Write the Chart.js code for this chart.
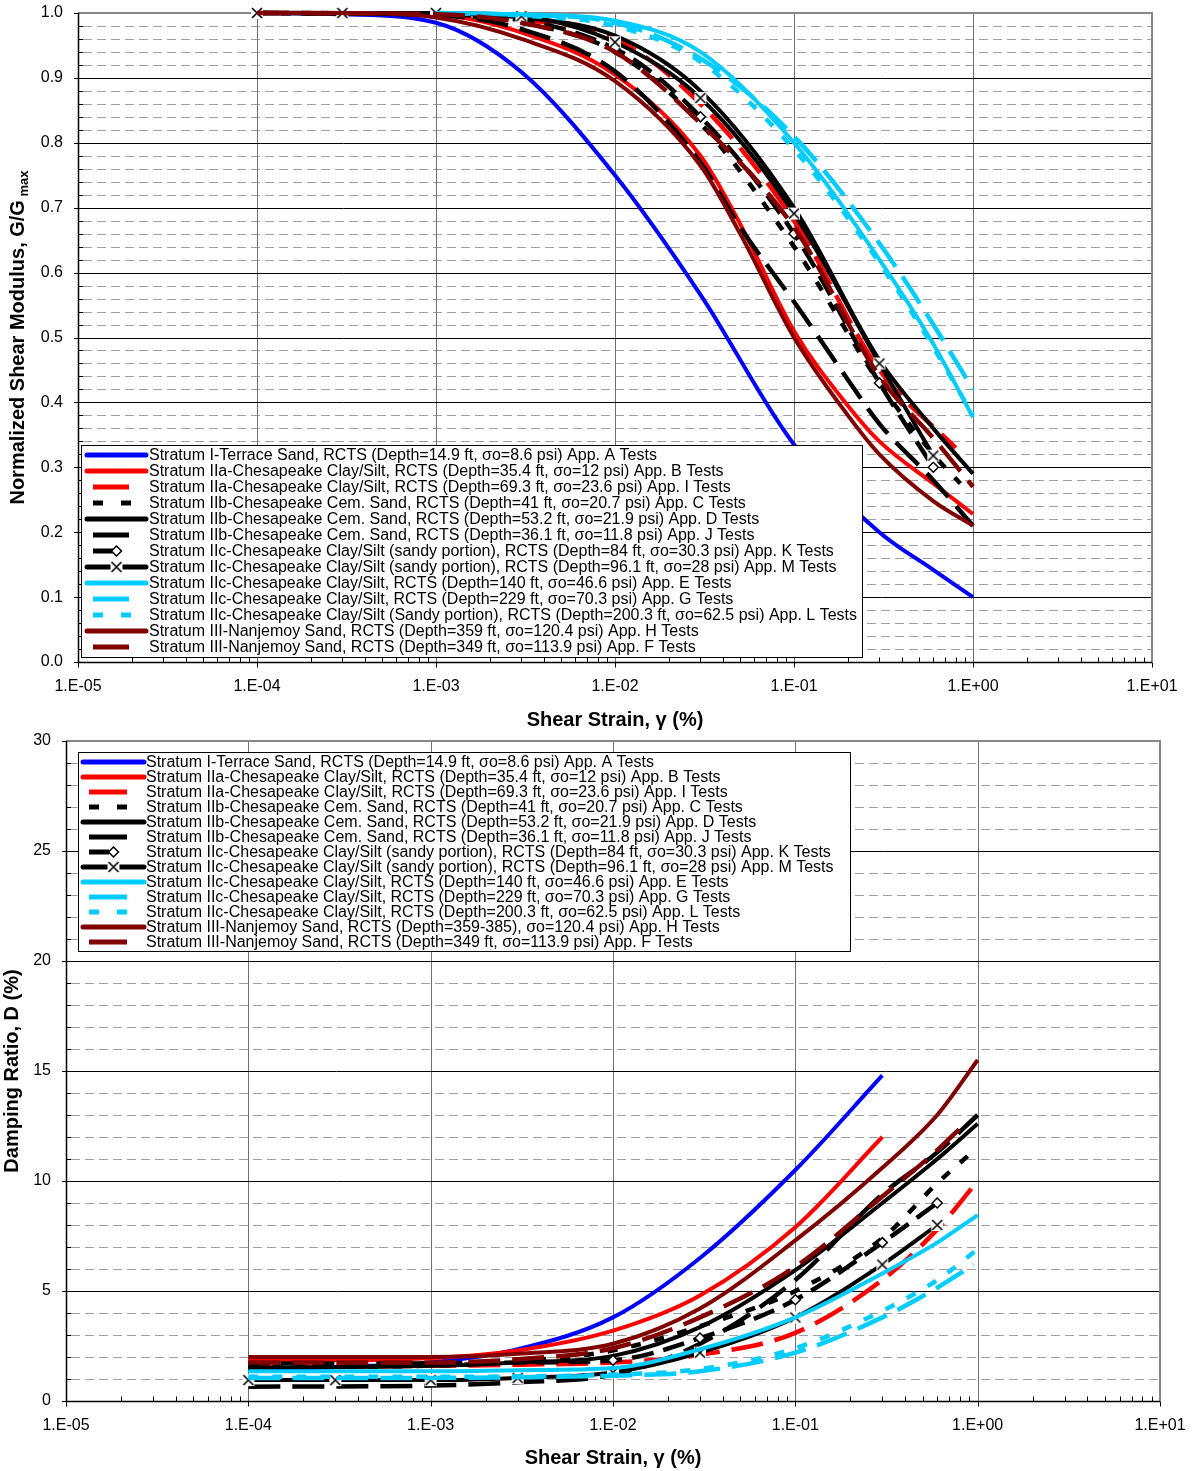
<!DOCTYPE html>
<html>
<head>
<meta charset="utf-8">
<script src="https://cdn.jsdelivr.net/npm/chart.js@4.4.0/dist/chart.umd.min.js"></script>
<style>
  body { margin: 0; background: #fff; }
  #wrap { position: relative; width: 1194px; height: 1471px; }
  canvas { position: absolute; left: 0; }
  #modChart { top: 0; }
  #dampChart { top: 725px; }
</style>
</head>
<body>
<div id="wrap">
  <canvas id="modChart" width="1194" height="740"></canvas>
  <canvas id="dampChart" width="1194" height="746"></canvas>
</div>
<script>
// ---- axes ----
const strainTicks = [1e-5, 1e-4, 1e-3, 1e-2, 1e-1, 1, 10];
const strainLabels = ['1.E-05', '1.E-04', '1.E-03', '1.E-02', '1.E-01', '1.E+00', '1.E+01'];
const modTicks = [0, 0.1, 0.2, 0.3, 0.4, 0.5, 0.6, 0.7, 0.8, 0.9, 1.0];
const dampTicks = [0, 5, 10, 15, 20, 25, 30];

// legend order of the series
const seriesOrder = ['A', 'B', 'I', 'C', 'D', 'J', 'K', 'M', 'E', 'G', 'L', 'H', 'F'];

const modNames = [
  'Stratum I-Terrace Sand, RCTS (Depth=14.9 ft, σo=8.6 psi) App. A Tests',
  'Stratum IIa-Chesapeake Clay/Silt, RCTS (Depth=35.4 ft, σo=12 psi) App. B Tests',
  'Stratum IIa-Chesapeake Clay/Silt, RCTS (Depth=69.3 ft, σo=23.6 psi) App. I Tests',
  'Stratum IIb-Chesapeake Cem. Sand, RCTS (Depth=41 ft, σo=20.7 psi) App. C Tests',
  'Stratum IIb-Chesapeake Cem. Sand, RCTS (Depth=53.2 ft, σo=21.9 psi) App. D Tests',
  'Stratum IIb-Chesapeake Cem. Sand, RCTS (Depth=36.1 ft, σo=11.8 psi) App. J Tests',
  'Stratum IIc-Chesapeake Clay/Silt (sandy portion), RCTS (Depth=84 ft, σo=30.3 psi) App. K Tests',
  'Stratum IIc-Chesapeake Clay/Silt (sandy portion), RCTS (Depth=96.1 ft, σo=28 psi) App. M Tests',
  'Stratum IIc-Chesapeake Clay/Silt, RCTS (Depth=140 ft, σo=46.6 psi) App. E Tests',
  'Stratum IIc-Chesapeake Clay/Silt, RCTS (Depth=229 ft, σo=70.3 psi) App. G Tests',
  'Stratum IIc-Chesapeake Clay/Silt (Sandy portion), RCTS (Depth=200.3 ft, σo=62.5 psi) App. L Tests',
  'Stratum III-Nanjemoy Sand, RCTS (Depth=359 ft, σo=120.4 psi) App. H Tests',
  'Stratum III-Nanjemoy Sand, RCTS (Depth=349 ft, σo=113.9 psi) App. F Tests'
];
const dampNames = [
  'Stratum I-Terrace Sand, RCTS (Depth=14.9 ft, σo=8.6 psi) App. A Tests',
  'Stratum IIa-Chesapeake Clay/Silt, RCTS (Depth=35.4 ft, σo=12 psi) App. B Tests',
  'Stratum IIa-Chesapeake Clay/Silt, RCTS (Depth=69.3 ft, σo=23.6 psi) App. I Tests',
  'Stratum IIb-Chesapeake Cem. Sand, RCTS (Depth=41 ft, σo=20.7 psi) App. C Tests',
  'Stratum IIb-Chesapeake Cem. Sand, RCTS (Depth=53.2 ft, σo=21.9 psi) App. D Tests',
  'Stratum IIb-Chesapeake Cem. Sand, RCTS (Depth=36.1 ft, σo=11.8 psi) App. J Tests',
  'Stratum IIc-Chesapeake Clay/Silt (sandy portion), RCTS (Depth=84 ft, σo=30.3 psi) App. K Tests',
  'Stratum IIc-Chesapeake Clay/Silt (sandy portion), RCTS (Depth=96.1 ft, σo=28 psi) App. M Tests',
  'Stratum IIc-Chesapeake Clay/Silt, RCTS (Depth=140 ft, σo=46.6 psi) App. E Tests',
  'Stratum IIc-Chesapeake Clay/Silt, RCTS (Depth=229 ft, σo=70.3 psi) App. G Tests',
  'Stratum IIc-Chesapeake Clay/Silt, RCTS (Depth=200.3 ft, σo=62.5 psi) App. L Tests',
  'Stratum III-Nanjemoy Sand, RCTS (Depth=359-385), σo=120.4 psi) App. H Tests',
  'Stratum III-Nanjemoy Sand, RCTS (Depth=349 ft, σo=113.9 psi) App. F Tests'
];

// ---- G/Gmax curves (strain %, ratio) ----
const gA_x = [1e-4, 3e-4, 1e-3, 3e-3, 1e-2, 3e-2, 1e-1, 3e-1, 6e-1, 1];
const gA_y = [1.0, 0.998, 0.985, 0.909, 0.75, 0.566, 0.335, 0.2, 0.142, 0.10];
const gB_x = [1e-4, 1e-3, 3e-3, 1e-2, 3e-2, 5e-2, 1e-1, 2e-1, 3e-1, 6e-1, 1];
const gB_y = [1.0, 0.997, 0.97, 0.905, 0.78, 0.675, 0.51, 0.395, 0.34, 0.275, 0.228];
const gI_x = [1e-4, 1e-3, 3e-3, 1e-2, 3e-2, 1e-1, 3e-1, 8e-1];
const gI_y = [1.0, 0.998, 0.99, 0.96, 0.86, 0.68, 0.45, 0.33];
const gC_x = [1e-4, 1e-3, 3e-3, 1e-2, 3e-2, 1e-1, 3e-1, 6e-1, 0.85];
const gC_y = [1.0, 0.997, 0.985, 0.94, 0.83, 0.64, 0.43, 0.32, 0.275];
const gD_x = [1e-4, 1e-3, 3e-3, 1e-2, 3e-2, 1e-1, 3e-1, 6e-1, 1];
const gD_y = [1.0, 0.999, 0.993, 0.965, 0.88, 0.70, 0.465, 0.36, 0.29];
const gJ_x = [1e-4, 1e-3, 3e-3, 1e-2, 3e-2, 5e-2, 1e-1, 2e-1, 3e-1, 6e-1, 1];
const gJ_y = [1.0, 0.997, 0.975, 0.91, 0.77, 0.67, 0.555, 0.435, 0.367, 0.28, 0.21];
const gK_x = [1e-4, 1e-3, 1e-2, 3e-2, 1e-1, 3e-1, 6e-1];
const gK_y = [1.0, 0.998, 0.945, 0.84, 0.66, 0.43, 0.30];
const gM_x = [1e-4, 3e-4, 1e-3, 3e-3, 1e-2, 3e-2, 1e-1, 3e-1, 6e-1];
const gM_y = [1.0, 1.0, 1.0, 0.995, 0.955, 0.869, 0.691, 0.46, 0.318];
const gE_x = [1e-3, 3e-3, 1e-2, 3e-2, 1e-1, 3e-1, 6e-1, 1];
const gE_y = [1.0, 0.998, 0.988, 0.94, 0.80, 0.62, 0.49, 0.377];
const gG_x = [1e-3, 3e-3, 1e-2, 3e-2, 1e-1, 3e-1, 6e-1, 1];
const gG_y = [1.0, 0.997, 0.985, 0.93, 0.81, 0.645, 0.52, 0.42];
const gL_x = [1e-3, 3e-3, 1e-2, 3e-2, 1e-1, 3e-1, 6e-1, 1];
const gL_y = [1.0, 0.996, 0.98, 0.925, 0.79, 0.615, 0.485, 0.38];
const gH_x = [1e-4, 3e-4, 1e-3, 3e-3, 1e-2, 3e-2, 5e-2, 1e-1, 2e-1, 3e-1, 6e-1, 1];
const gH_y = [1.0, 1.0, 0.993, 0.96, 0.895, 0.765, 0.66, 0.50, 0.38, 0.32, 0.248, 0.21];
const gF_x = [1e-4, 1e-3, 3e-3, 1e-2, 3e-2, 1e-1, 3e-1, 6e-1, 1];
const gF_y = [1.0, 0.998, 0.985, 0.94, 0.83, 0.67, 0.44, 0.345, 0.27];

// ---- damping curves (strain %, D %) ----
const dA_x = [1e-4, 3e-4, 1e-3, 3e-3, 1e-2, 3e-2, 1e-1, 3e-1];
const dA_y = [1.45, 1.55, 1.75, 2.35, 3.8, 6.5, 10.5, 14.8];
const dB_x = [1e-4, 3e-4, 1e-3, 3e-3, 1e-2, 3e-2, 1e-1, 3e-1];
const dB_y = [1.85, 1.85, 1.95, 2.3, 3.2, 4.8, 7.9, 12.0];
const dI_x = [1e-4, 1e-3, 3e-3, 1e-2, 3e-2, 1e-1, 3e-1, 6e-1, 1];
const dI_y = [1.55, 1.6, 1.65, 1.75, 2.1, 3.1, 5.5, 7.8, 10.0];
const dC_x = [1e-4, 1e-3, 3e-3, 1e-2, 3e-2, 1e-1, 3e-1, 6e-1, 0.9];
const dC_y = [1.55, 1.6, 1.8, 2.3, 3.4, 5.0, 7.4, 9.9, 11.2];
const dD_x = [1e-4, 1e-3, 3e-3, 1e-2, 3e-2, 1e-1, 3e-1, 6e-1, 1];
const dD_y = [1.5, 1.6, 1.75, 2.05, 3.36, 5.95, 9.0, 11.0, 12.6];
const dJ_x = [1e-4, 1e-3, 3e-3, 1e-2, 3e-2, 1e-1, 3e-1, 6e-1, 1];
const dJ_y = [0.65, 0.7, 0.85, 1.2, 2.6, 5.5, 9.4, 11.3, 13.0];
const dK_x = [1e-4, 1e-3, 3e-3, 1e-2, 3e-2, 1e-1, 3e-1, 6e-1];
const dK_y = [1.7, 1.7, 1.75, 1.85, 2.86, 4.6, 7.2, 9.0];
const dM_x = [1e-4, 3e-4, 1e-3, 3e-3, 1e-2, 3e-2, 1e-1, 3e-1, 6e-1];
const dM_y = [0.95, 0.95, 0.95, 1.05, 1.3, 2.2, 3.8, 6.2, 8.0];
const dE_x = [1e-4, 1e-3, 3e-3, 1e-2, 3e-2, 1e-1, 3e-1, 6e-1, 1];
const dE_y = [1.35, 1.35, 1.4, 1.5, 2.35, 3.8, 5.8, 7.2, 8.45];
const dG_x = [1e-4, 1e-3, 3e-3, 1e-2, 3e-2, 1e-1, 3e-1, 6e-1, 0.95];
const dG_y = [1.05, 1.05, 1.08, 1.15, 1.35, 2.2, 3.8, 5.15, 6.2];
const dL_x = [1e-4, 1e-3, 3e-3, 1e-2, 3e-2, 1e-1, 3e-1, 6e-1, 1];
const dL_y = [1.1, 1.1, 1.12, 1.2, 1.45, 2.4, 4.1, 5.5, 6.9];
const dH_x = [1e-4, 3e-4, 1e-3, 3e-3, 1e-2, 3e-2, 1e-1, 3e-1, 6e-1, 1];
const dH_y = [2.0, 2.0, 2.0, 2.15, 2.6, 4.2, 7.3, 10.6, 13.0, 15.5];
const dF_x = [1e-4, 1e-3, 3e-3, 1e-2, 3e-2, 1e-1, 3e-1, 6e-1, 0.85];
const dF_y = [1.75, 1.75, 1.9, 2.4, 3.8, 6.1, 9.3, 11.4, 12.6];

const modX = { A: gA_x, B: gB_x, I: gI_x, C: gC_x, D: gD_x, J: gJ_x, K: gK_x, M: gM_x, E: gE_x, G: gG_x, L: gL_x, H: gH_x, F: gF_x };
const modY = { A: gA_y, B: gB_y, I: gI_y, C: gC_y, D: gD_y, J: gJ_y, K: gK_y, M: gM_y, E: gE_y, G: gG_y, L: gL_y, H: gH_y, F: gF_y };
const dampX = { A: dA_x, B: dB_x, I: dI_x, C: dC_x, D: dD_x, J: dJ_x, K: dK_x, M: dM_x, E: dE_x, G: dG_x, L: dL_x, H: dH_x, F: dF_x };
const dampY = { A: dA_y, B: dB_y, I: dI_y, C: dC_y, D: dD_y, J: dJ_y, K: dK_y, M: dM_y, E: dE_y, G: dG_y, L: dL_y, H: dH_y, F: dF_y };

// ---- styles ----
const FONT = "'Liberation Sans', Arial, sans-serif";
const BLUE = '#0000ff', RED = '#ff0000', BLACK = '#000000', CYAN = '#00ccff', MAROON = '#800000';
const seriesStyle = {
  A: { color: BLUE, kind: 'solid' },
  B: { color: RED, kind: 'solid' },
  I: { color: RED, kind: 'long' },
  C: { color: BLACK, kind: 'short' },
  D: { color: BLACK, kind: 'solid' },
  J: { color: BLACK, kind: 'long' },
  K: { color: BLACK, kind: 'diamond' },
  M: { color: BLACK, kind: 'cross' },
  E: { color: CYAN, kind: 'solid' },
  G: { color: CYAN, kind: 'long' },
  L: { color: CYAN, kind: 'short' },
  H: { color: MAROON, kind: 'solid' },
  F: { color: MAROON, kind: 'long' }
};
const dashes = { solid: [], cross: [], long: [32, 12], short: [10, 14], diamond: [22, 10] };

// X marker on a white square
function makeCross() {
  const c = document.createElement('canvas');
  c.width = 14; c.height = 14;
  const g = c.getContext('2d');
  g.fillStyle = '#fff';
  g.fillRect(1, 1, 12, 12);
  g.strokeStyle = '#000';
  g.lineWidth = 1.6;
  g.beginPath();
  g.moveTo(2, 2); g.lineTo(12, 12);
  g.moveTo(12, 2); g.lineTo(2, 12);
  g.stroke();
  return c;
}
const crossImg = makeCross();

function buildSets(xs, ys) {
  return seriesOrder.map((k, i) => {
    const st = seriesStyle[k];
    const ds = {
      label: k,
      data: xs[k].map((x, j) => ({ x: x, y: ys[k][j] })),
      borderColor: st.color,
      backgroundColor: st.color,
      borderWidth: st.kind === 'solid' || st.kind === 'cross' ? 4 : 4.5,
      borderDash: dashes[st.kind],
      cubicInterpolationMode: 'monotone',
      pointRadius: 0,
      clip: false,
      order: -i
    };
    if (k === 'K') {
      ds.pointStyle = 'rectRot';
      ds.pointRadius = c => (c.raw && c.raw.x >= 0.0099 ? 5 : 0);
      ds.pointBackgroundColor = '#fff';
      ds.pointBorderColor = '#000';
      ds.pointBorderWidth = 1.5;
    }
    if (k === 'M') {
      ds.pointStyle = crossImg;
      ds.pointRadius = 6;
    }
    return ds;
  });
}

function drawSample(ctx, st, l, r, yy) {
  const seg = (a, b) => { ctx.beginPath(); ctx.moveTo(a, yy); ctx.lineTo(b, yy); ctx.stroke(); };
  ctx.strokeStyle = st.color;
  ctx.lineWidth = 5;
  ctx.setLineDash([]);
  ctx.lineCap = 'butt';
  const mid = (l + r) / 2;
  if (st.kind === 'solid' || st.kind === 'cross') {
    ctx.lineCap = 'round';
    seg(l + 2, r - 2);
    ctx.lineCap = 'butt';
    if (st.kind === 'cross') ctx.drawImage(crossImg, mid - 7, yy - 7);
  } else if (st.kind === 'long') {
    seg(l + 8, r - 19);
  } else if (st.kind === 'short') {
    seg(l + 8, l + 18);
    seg(l + 36, l + 46);
  } else if (st.kind === 'diamond') {
    seg(l + 8, l + 28);
    ctx.fillStyle = '#fff';
    ctx.strokeStyle = '#000';
    ctx.lineWidth = 1.5;
    ctx.beginPath();
    ctx.moveTo(mid, yy - 5); ctx.lineTo(mid + 5, yy); ctx.lineTo(mid, yy + 5); ctx.lineTo(mid - 5, yy);
    ctx.closePath();
    ctx.fill();
    ctx.stroke();
  }
}

// grid, frame, legend and titles
const paperPlugin = {
  id: 'paper',
  beforeDatasetsDraw(chart, args, o) {
    const ctx = chart.ctx, a = chart.chartArea, x = chart.scales.x, y = chart.scales.y;
    const px = v => Math.round(x.getPixelForValue(v)) + 0.5;
    const py = v => Math.round(y.getPixelForValue(v)) + 0.5;
    const yMax = o.yTicks[o.yTicks.length - 1];
    ctx.save();
    ctx.lineWidth = 1;
    // minor dashed lines
    ctx.strokeStyle = '#a0a0a0';
    ctx.setLineDash([9, 5]);
    ctx.beginPath();
    for (let k = 1; k < o.minorCount; k++) {
      if (k % o.minorPerMajor === 0) continue;
      const yy = py(yMax * k / o.minorCount);
      ctx.moveTo(a.left + 5, yy);
      ctx.lineTo(a.right, yy);
    }
    ctx.stroke();
    ctx.setLineDash([]);
    // decade lines
    ctx.strokeStyle = '#707070';
    ctx.beginPath();
    for (let i = 1; i < strainTicks.length - 1; i++) {
      const xx = px(strainTicks[i]);
      ctx.moveTo(xx, a.top);
      ctx.lineTo(xx, a.bottom);
    }
    ctx.stroke();
    // major horizontal lines
    ctx.strokeStyle = '#000';
    ctx.beginPath();
    o.yTicks.slice(1, -1).forEach(v => {
      const yy = py(v);
      ctx.moveTo(a.left - 4, yy);
      ctx.lineTo(a.right, yy);
    });
    // major y ticks at ends
    ctx.moveTo(a.left - 4, py(0)); ctx.lineTo(a.left, py(0));
    ctx.moveTo(a.left - 4, py(yMax)); ctx.lineTo(a.left, py(yMax));
    // minor y ticks (inside)
    for (let k = 1; k < o.minorCount; k++) {
      if (k % o.minorPerMajor === 0) continue;
      const yy = py(yMax * k / o.minorCount);
      ctx.moveTo(a.left, yy);
      ctx.lineTo(a.left + 5, yy);
    }
    // x ticks
    const bottom = Math.round(a.bottom) + 0.5;
    strainTicks.forEach(v => { const xx = px(v); ctx.moveTo(xx, bottom); ctx.lineTo(xx, bottom + 5); });
    for (let d = -5; d < 1; d++) {
      for (let m = 2; m <= 9; m++) {
        const xx = px(m * Math.pow(10, d));
        ctx.moveTo(xx, bottom);
        ctx.lineTo(xx, bottom - 5);
      }
    }
    ctx.stroke();
    // frame
    ctx.strokeStyle = '#888';
    ctx.lineWidth = 2;
    ctx.beginPath();
    ctx.moveTo(a.left, Math.round(a.top));
    ctx.lineTo(Math.round(a.right), Math.round(a.top));
    ctx.lineTo(Math.round(a.right), a.bottom);
    ctx.stroke();
    ctx.strokeStyle = '#000';
    ctx.lineWidth = 1.5;
    ctx.beginPath();
    ctx.moveTo(Math.round(a.left) + 0.5, a.top);
    ctx.lineTo(Math.round(a.left) + 0.5, bottom);
    ctx.lineTo(a.right, bottom);
    ctx.stroke();
    ctx.restore();
  },
  afterDatasetsDraw(chart, args, o) {
    const ctx = chart.ctx, L = o.legend;
    ctx.save();
    ctx.fillStyle = '#fff';
    ctx.fillRect(L.left, L.top, L.right - L.left, L.bottom - L.top);
    ctx.strokeStyle = '#000';
    ctx.lineWidth = 1;
    ctx.strokeRect(L.left + 0.5, L.top + 0.5, L.right - L.left, L.bottom - L.top);
    o.names.forEach((name, i) => {
      const yy = L.firstRow + i * L.rowStep;
      drawSample(ctx, seriesStyle[seriesOrder[i]], L.sampleL, L.sampleR, yy);
      ctx.font = '16px ' + FONT;
      ctx.textBaseline = 'middle';
      ctx.textAlign = 'left';
      ctx.fillStyle = '#000';
      ctx.fillText(name, L.textX, yy + 1);
    });
    ctx.restore();
  },
  afterDraw(chart, args, o) {
    const ctx = chart.ctx, a = chart.chartArea;
    const cx = (a.left + a.right) / 2, cy = (a.top + a.bottom) / 2;
    ctx.save();
    ctx.fillStyle = '#000';
    ctx.textBaseline = 'middle';
    ctx.textAlign = 'center';
    ctx.font = 'bold 20px ' + FONT;
    ctx.fillText('Shear Strain, γ (%)', cx, o.xTitleY);
    // rotated y title with optional subscript
    ctx.translate(o.yTitleX, cy);
    ctx.rotate(-Math.PI / 2);
    ctx.textAlign = 'left';
    const w1 = ctx.measureText(o.yTitle).width;
    ctx.font = 'bold 13px ' + FONT;
    const w2 = o.yTitleSub ? ctx.measureText(' ' + o.yTitleSub).width : 0;
    const start = -(w1 + w2) / 2;
    ctx.font = 'bold 20px ' + FONT;
    ctx.fillText(o.yTitle, start, 0);
    if (o.yTitleSub) {
      ctx.font = 'bold 13px ' + FONT;
      ctx.fillText(' ' + o.yTitleSub, start + w1, 6);
    }
    ctx.restore();
  }
};

function noScalePadding(s) {
  s.paddingTop = 0;
  s.paddingBottom = 0;
  s.paddingLeft = 0;
  s.paddingRight = 0;
}

function makeOptions(cfg) {
  return {
    responsive: false,
    animation: false,
    events: [],
    layout: { padding: cfg.padding },
    plugins: {
      legend: { display: false },
      tooltip: { enabled: false },
      paper: cfg.paper
    },
    scales: {
      x: {
        type: 'logarithmic',
        min: 1e-5,
        max: 10,
        afterBuildTicks: s => { s.ticks = strainTicks.map(v => ({ value: v })); },
        afterFit: s => { s.height = cfg.xHeight; noScalePadding(s); },
        grid: { display: true, drawOnChartArea: false, drawTicks: false, color: 'rgba(0,0,0,0)' },
        border: { display: false },
        ticks: {
          autoSkip: false, maxRotation: 0, padding: 15, color: '#000',
          font: { family: FONT, size: 16 },
          callback: (v, i) => strainLabels[i]
        }
      },
      y: {
        type: 'linear',
        min: cfg.yTicks[0],
        max: cfg.yTicks[cfg.yTicks.length - 1],
        afterBuildTicks: s => { s.ticks = cfg.yTicks.map(v => ({ value: v })); },
        afterFit: s => { s.width = cfg.yWidth; noScalePadding(s); },
        grid: { display: true, drawOnChartArea: false, drawTicks: false, color: 'rgba(0,0,0,0)' },
        border: { display: false },
        ticks: {
          padding: 15, color: '#000',
          font: { family: FONT, size: 16 },
          callback: cfg.yLabel
        }
      }
    }
  };
}

new Chart(document.getElementById('modChart'), {
  type: 'line',
  data: { datasets: buildSets(modX, modY) },
  options: makeOptions({
    padding: { left: 0, top: 13, right: 42, bottom: 0 },
    xHeight: 78,
    yWidth: 78,
    yTicks: modTicks,
    yLabel: v => v.toFixed(1),
    paper: {
      yTicks: modTicks, minorCount: 50, minorPerMajor: 5,
      names: modNames,
      legend: { left: 81, top: 445, right: 862, bottom: 657, firstRow: 455, rowStep: 16, textX: 149, sampleL: 85, sampleR: 148 },
      xTitleY: 720, yTitleX: 18,
      yTitle: 'Normalized Shear Modulus, G/G', yTitleSub: 'max'
    }
  }),
  plugins: [paperPlugin]
});

new Chart(document.getElementById('dampChart'), {
  type: 'line',
  data: { datasets: buildSets(dampX, dampY) },
  options: makeOptions({
    padding: { left: 0, top: 16, right: 34, bottom: 0 },
    xHeight: 70,
    yWidth: 66,
    yTicks: dampTicks,
    yLabel: v => String(v),
    paper: {
      yTicks: dampTicks, minorCount: 30, minorPerMajor: 5,
      names: dampNames,
      legend: { left: 78, top: 27, right: 850, bottom: 226, firstRow: 37, rowStep: 15, textX: 146, sampleL: 81, sampleR: 146 },
      xTitleY: 733, yTitleX: 12,
      yTitle: 'Damping Ratio, D (%)', yTitleSub: ''
    }
  }),
  plugins: [paperPlugin]
});
</script>
</body>
</html>
